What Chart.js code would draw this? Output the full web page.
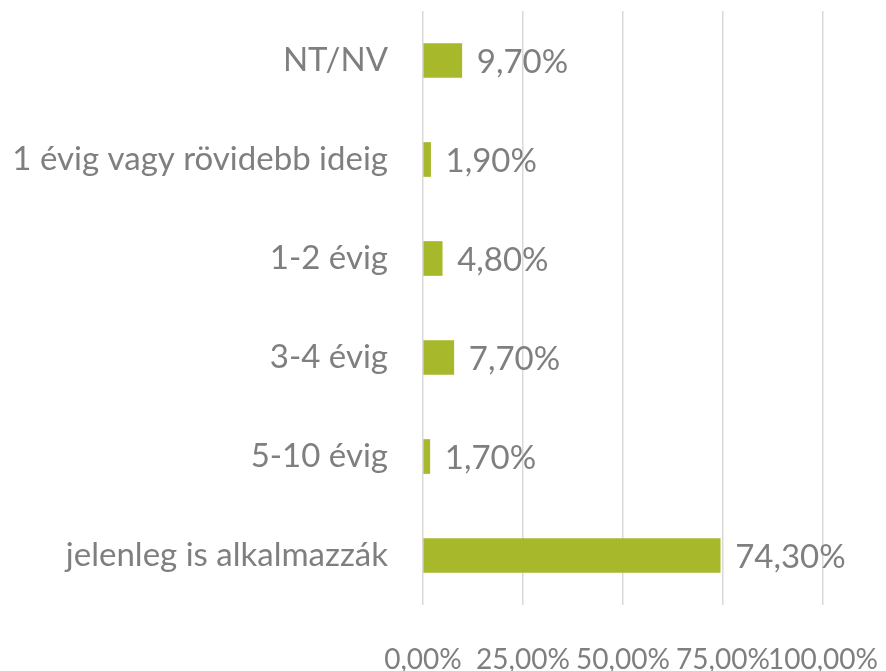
<!DOCTYPE html>
<html>
<head>
<meta charset="utf-8">
<script src="https://cdn.jsdelivr.net/npm/chart.js@4/dist/chart.umd.min.js"></script>
<style>
  html, body { margin: 0; padding: 0; background: #fff; }
  #wrap { width: 886px; height: 671px; }
</style>
</head>
<body>
<div id="wrap"><canvas id="chart"></canvas></div>
<script>
const categories = ['NT/NV', '1 évig vagy rövidebb ideig', '1-2 évig', '3-4 évig', '5-10 évig', 'jelenleg is alkalmazzák'];
const values = [9.7, 1.9, 4.8, 7.7, 1.7, 74.3];
const xTicks = [0, 25, 50, 75, 100];

const textColor = '#7f7f7f';
const fontFamily = 'Lato, "Open Sans", sans-serif';

function pct(v) {
  return v.toFixed(2).replace('.', ',') + '%';
}

// draws the value label just to the right of every bar
const barLabels = {
  id: 'barLabels',
  afterDatasetsDraw(chart) {
    const ctx = chart.ctx;
    const meta = chart.getDatasetMeta(0);
    ctx.save();
    ctx.fillStyle = textColor;
    ctx.font = '33px ' + fontFamily;
    ctx.textAlign = 'left';
    ctx.textBaseline = 'middle';
    meta.data.forEach((bar, i) => {
      ctx.fillText(pct(values[i]), bar.x + 15, bar.y + 2);
    });
    ctx.restore();
  }
};

new Chart(document.getElementById('chart'), {
  type: 'bar',
  data: {
    labels: categories,
    datasets: [{
      data: values,
      backgroundColor: '#a7b82a',
      barThickness: 34
    }]
  },
  options: {
    indexAxis: 'y',
    responsive: true,
    maintainAspectRatio: false,
    animation: false,
    layout: { padding: { top: 11, right: 63, bottom: 0, left: 0 } },
    plugins: { legend: { display: false }, tooltip: { enabled: false } },
    scales: {
      x: {
        min: 0,
        max: 100,
        afterBuildTicks: s => { s.ticks = xTicks.map(v => ({ value: v })); },
        afterFit: s => {
          s.height = 66;
          s.paddingLeft = 0;
          s.paddingRight = 0;
        },
        grid: { color: '#d9d9d9', lineWidth: 1.5, drawTicks: false },
        border: { display: false },
        ticks: {
          autoSkip: false,
          maxRotation: 0,
          padding: 38,
          color: textColor,
          font: { family: fontFamily, size: 28 },
          callback: v => pct(v)
        }
      },
      y: {
        afterFit: s => {
          s.width = 423;
          s.paddingTop = 0;
          s.paddingBottom = 0;
        },
        grid: { display: false, drawTicks: false },
        border: { display: false },
        ticks: {
          padding: 35,
          color: textColor,
          font: { family: fontFamily, size: 33 }
        }
      }
    }
  },
  plugins: [barLabels]
});
</script>
</body>
</html>
